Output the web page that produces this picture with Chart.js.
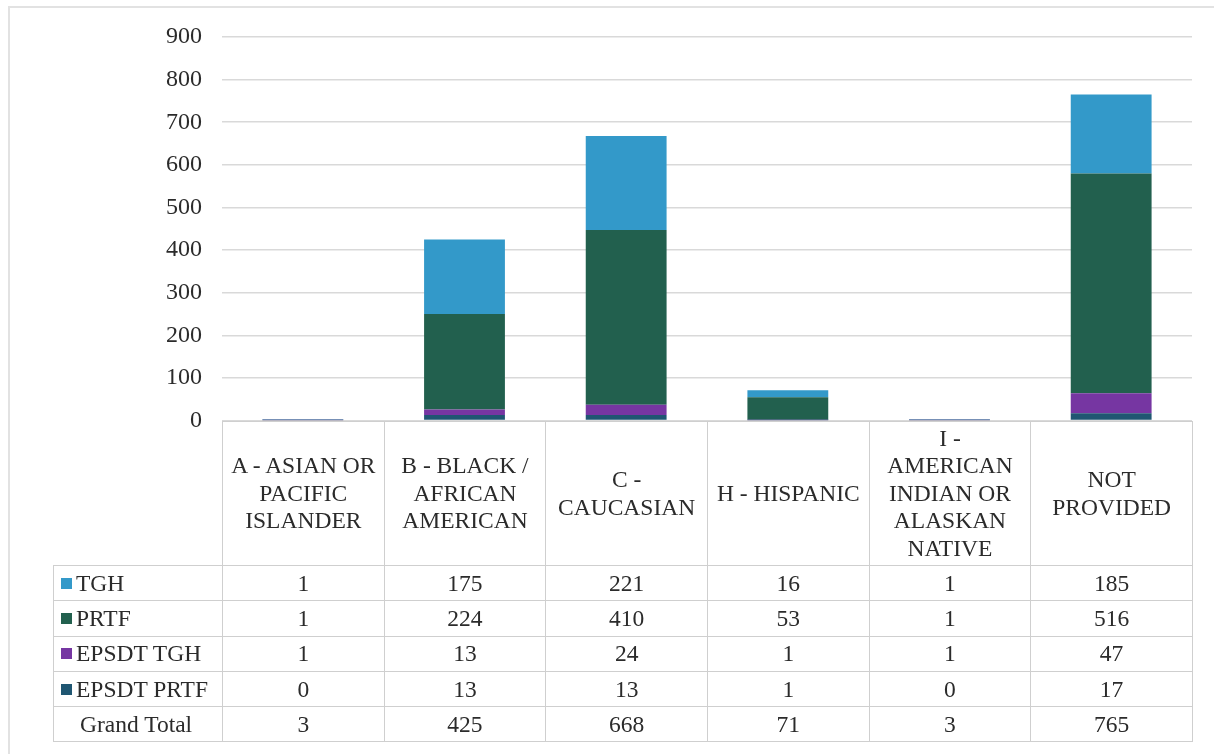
<!DOCTYPE html>
<html>
<head>
<meta charset="utf-8">
<script src="https://cdn.jsdelivr.net/npm/chart.js@4/dist/chart.umd.min.js"></script>
<style>
  html, body { margin: 0; padding: 0; background: #fff; }
  #wrap { position: relative; width: 1214px; height: 754px; overflow: hidden; background: #fff; }
  #frame { position: absolute; left: 8px; top: 6px; width: 1230px; height: 770px;
           border-left: 2px solid #e2e2e2; border-top: 2px solid #e2e2e2; }
  #chart-box { position: absolute; left: 0; top: 0; width: 1214px; height: 455px; }
  #data-table { position: absolute; left: 53px; top: 421px; width: 1139px; table-layout: fixed;
                border-collapse: collapse;
                font-family: "Liberation Serif", "Times New Roman", serif;
                font-size: 23.5px; color: #2b2b2b; }
  #data-table td { border: 1.5px solid #cfcfcf; text-align: center; padding: 0; white-space: nowrap; overflow: hidden; }
  #data-table td.blank { border-top: none; border-left: none; }
  #data-table tr.head td { height: 143px; line-height: 27.5px; }
  #data-table tr.row td { height: 34.3px; }
  #data-table td.label { text-align: left; padding-left: 7px; }
  .swatch { display: inline-block; width: 11px; height: 11px; margin-right: 4px; vertical-align: 2px; }
  .indent { padding-left: 26px !important; }
</style>
</head>
<body>
<div id="wrap">
  <div id="frame"></div>
  <div id="chart-box"><canvas id="race-chart"></canvas></div>
  <table id="data-table"></table>
</div>
<script>
// categories (header lines as shown in the table)
const categories = [
    ['A - ASIAN OR', 'PACIFIC', 'ISLANDER'],
    ['B - BLACK /', 'AFRICAN', 'AMERICAN'],
    ['C -', 'CAUCASIAN'],
    ['H - HISPANIC'],
    ['I -', 'AMERICAN', 'INDIAN OR', 'ALASKAN', 'NATIVE'],
    ['NOT', 'PROVIDED']
];

// series values
const tghValues       = [1, 175, 221, 16, 1, 185];
const prtfValues      = [1, 224, 410, 53, 1, 516];
const epsdtTghValues  = [1, 13, 24, 1, 1, 47];
const epsdtPrtfValues = [0, 13, 13, 1, 0, 17];
const grandTotal      = [3, 425, 668, 71, 3, 765];

// y axis ticks
const yTicks = [0, 100, 200, 300, 400, 500, 600, 700, 800, 900];

const colors = {
    tgh: '#3399c9',
    prtf: '#22604e',
    epsdtTgh: '#7636a2',
    epsdtPrtf: '#1f5672'
};

const SERIF = '"Liberation Serif", "Times New Roman", serif';

// legend/table rows, top to bottom
const tableRows = [
    { name: 'TGH', data: tghValues, color: colors.tgh },
    { name: 'PRTF', data: prtfValues, color: colors.prtf },
    { name: 'EPSDT TGH', data: epsdtTghValues, color: colors.epsdtTgh },
    { name: 'EPSDT PRTF', data: epsdtPrtfValues, color: colors.epsdtPrtf }
];

const CHART_LEFT = 222;
const CHART_RIGHT = 1192;
const COL_W = (CHART_RIGHT - CHART_LEFT) / categories.length;

// build the data table under the plot
function buildTable() {
    const table = document.getElementById('data-table');
    let html = '<colgroup><col style="width:169px">';
    categories.forEach(() => { html += `<col style="width:${COL_W}px">`; });
    html += '</colgroup>';

    html += '<tr class="head"><td class="blank"></td>';
    categories.forEach(lines => {
        html += `<td>${lines.join('<br>')}</td>`;
    });
    html += '</tr>';

    tableRows.forEach(row => {
        html += `<tr class="row"><td class="label"><span class="swatch" style="background:${row.color}"></span>${row.name}</td>`;
        row.data.forEach(v => { html += `<td>${v}</td>`; });
        html += '</tr>';
    });

    html += '<tr class="row"><td class="label indent">Grand Total</td>';
    grandTotal.forEach(v => { html += `<td>${v}</td>`; });
    html += '</tr>';
    table.innerHTML = html;
}

function createChart() {
    const ctx = document.getElementById('race-chart');
    new Chart(ctx, {
        type: 'bar',
        data: {
            labels: categories.map(c => c.join(' ')),
            datasets: [
                { label: 'EPSDT PRTF', data: epsdtPrtfValues, backgroundColor: colors.epsdtPrtf },
                { label: 'EPSDT TGH', data: epsdtTghValues, backgroundColor: colors.epsdtTgh },
                { label: 'PRTF', data: prtfValues, backgroundColor: colors.prtf },
                { label: 'TGH', data: tghValues, backgroundColor: colors.tgh }
            ]
        },
        options: {
            responsive: true,
            maintainAspectRatio: false,
            animation: false,
            layout: {
                padding: { top: 37, right: 1214 - CHART_RIGHT, bottom: 0, left: 0 }
            },
            plugins: {
                legend: { display: false },
                tooltip: { enabled: false }
            },
            datasets: {
                bar: { categoryPercentage: 1.0, barPercentage: 0.5 }
            },
            scales: {
                x: {
                    stacked: true,
                    display: false
                },
                y: {
                    stacked: true,
                    min: 0,
                    max: 900,
                    afterBuildTicks: scale => {
                        scale.ticks = yTicks.map(v => ({ value: v }));
                    },
                    afterFit: scale => {
                        scale.width = CHART_LEFT;
                    },
                    border: { display: false },
                    grid: {
                        color: '#d9d9d9',
                        lineWidth: 1.5,
                        drawTicks: false
                    },
                    ticks: {
                        padding: 20,
                        color: '#2b2b2b',
                        font: { family: SERIF, size: 24 }
                    }
                }
            }
        }
    });
}

document.addEventListener('DOMContentLoaded', () => {
    buildTable();
    createChart();
});
</script>
</body>
</html>
